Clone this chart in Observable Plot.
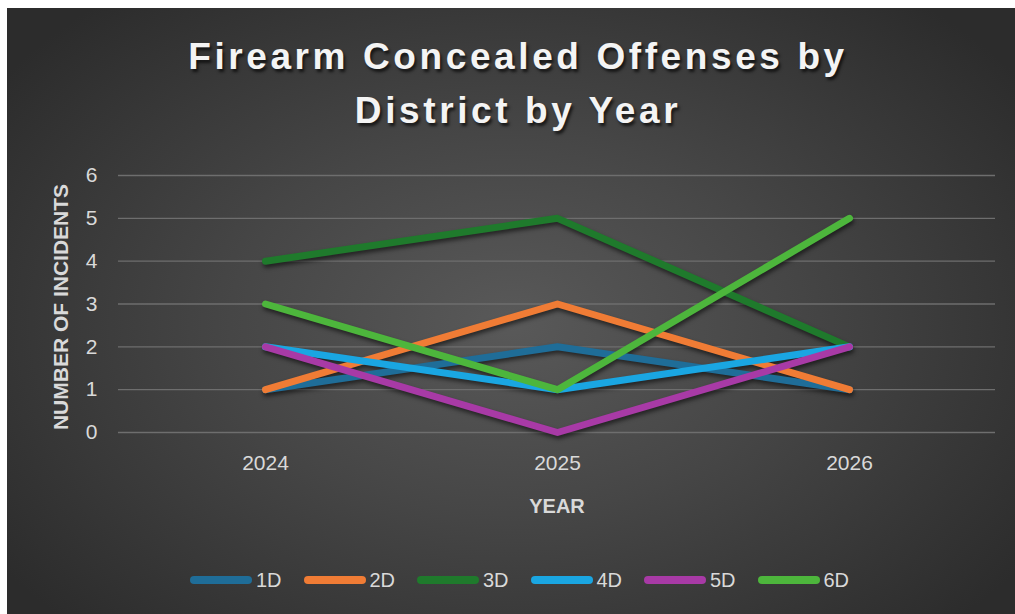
<!DOCTYPE html>
<html>
<head>
<meta charset="utf-8">
<script src="https://cdn.jsdelivr.net/npm/d3@7"></script>
<script src="https://cdn.jsdelivr.net/npm/@observablehq/plot@0.6"></script>
<style>
  html, body { margin: 0; padding: 0; background: #ffffff; }
  body { width: 1015px; height: 614px; position: relative; overflow: hidden; }
  #panel {
    position: absolute; left: 7px; top: 8px; width: 1008px; height: 606px;
    background: radial-gradient(ellipse 62% 70% at 50% 52%, #595959 0%, #464646 45%, #2c2c2c 100%);
  }
  #title {
    position: absolute; left: 18px; top: 30px; width: 1000px; text-align: center;
    font-family: "Liberation Sans", Arial, sans-serif; font-weight: bold; font-size: 37px;
    line-height: 54px; letter-spacing: 3.6px; color: #f4f4f4;
    text-shadow: 2px 3px 3px rgba(0,0,0,0.65);
  }
  #chart { position: absolute; left: 0; top: 150px; }
  #legend { position: absolute; left: 0; top: 567px; width: 1015px; height: 26px; }
  .item { position: absolute; top: 0; height: 26px; display: flex; align-items: center; }
  .sw { width: 62px; height: 8px; border-radius: 4px; }
  .lb { margin-left: 4px; font-family: "Liberation Sans Narrow", "Liberation Sans", Arial, sans-serif; font-size: 20px; color: #d9d9d9; }
</style>
</head>
<body>
<div id="panel"></div>
<div id="title">Firearm Concealed Offenses by<br>District by Year</div>
<div id="chart"></div>
<div id="legend"></div>
<script>
const years = ["2024", "2025", "2026"];
const districts = ["1D", "2D", "3D", "4D", "5D", "6D"];
const colors = ["#1f6d98", "#f07c35", "#1f7a2c", "#1aa6e2", "#a83aa6", "#4db63c"];
const v1D = [1, 2, 1];
const v2D = [1, 3, 1];
const v3D = [4, 5, 2];
const v4D = [2, 1, 2];
const v5D = [2, 0, 2];
const v6D = [3, 1, 5];
const yTicks = [0, 1, 2, 3, 4, 5, 6];
const yLabel = "NUMBER OF INCIDENTS";
const xLabel = "YEAR";

const series = [v1D, v2D, v3D, v4D, v5D, v6D];
const data = [];
districts.forEach((d, i) => years.forEach((y, j) => data.push({district: d, year: y, value: series[i][j]})));

const chart = Plot.plot({
  width: 1015,
  height: 380,
  marginTop: 25,
  marginBottom: 98,
  marginLeft: 118,
  marginRight: 20,
  style: {background: "transparent", color: "#d9d9d9", fontFamily: "'Liberation Sans', Arial, sans-serif", fontSize: "21px", overflow: "visible"},
  x: {type: "point", domain: years, padding: 0.5, label: null},
  y: {domain: [0, 6], label: null},
  color: {domain: districts, range: colors},
  marks: [
    Plot.gridY(yTicks, {stroke: "#6e6e6e", strokeOpacity: 1, strokeWidth: 1.3}),
    Plot.axisY(yTicks, {tickSize: 0, tickPadding: 21, label: null, fontSize: 21, fill: "#d9d9d9"}),
    Plot.axisX({tickSize: 0, tickPadding: 23, label: null, fontSize: 21, fill: "#d9d9d9"}),
    Plot.line(data, {x: "year", y: "value", z: "district", stroke: "district", strokeWidth: 7, strokeLinecap: "round", strokeLinejoin: "round"}),
    Plot.text([yLabel], {text: d => d, frameAnchor: "left", textAnchor: "middle", dx: -57, dy: 3, rotate: -90, fontWeight: "bold", fontSize: 21, fill: "#d9d9d9"}),
    Plot.text([xLabel], {text: d => d, frameAnchor: "bottom", dy: 80, fontWeight: "bold", fontSize: 20, fill: "#d9d9d9"})
  ]
});
document.getElementById("chart").appendChild(chart);
chart.querySelectorAll('g[aria-label="line"]').forEach(g => g.setAttribute("style", "filter: drop-shadow(1px 3px 2px rgba(0,0,0,0.55))"));

const legend = document.getElementById("legend");
districts.forEach((d, i) => {
  const it = document.createElement("div");
  it.className = "item";
  it.style.left = (190 + 113.5 * i) + "px";
  const sw = document.createElement("div");
  sw.className = "sw";
  sw.style.background = colors[i];
  const lb = document.createElement("span");
  lb.className = "lb";
  lb.textContent = d;
  it.appendChild(sw); it.appendChild(lb);
  legend.appendChild(it);
});
</script>
</body>
</html>
